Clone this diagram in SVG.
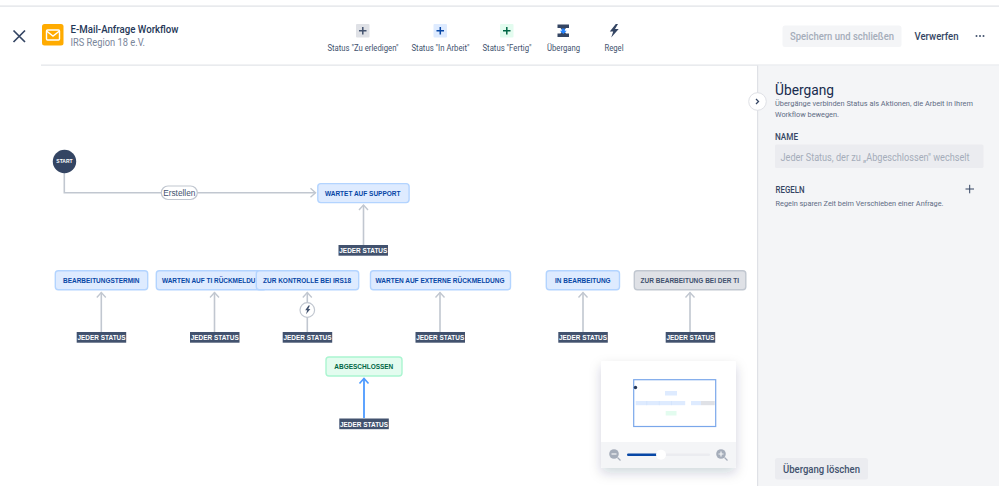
<svg xmlns="http://www.w3.org/2000/svg" width="999" height="498" viewBox="0 0 999 498">
<style>
text{font-family:Roboto,"Noto Sans","Liberation Sans",sans-serif}
.st rect{stroke-width:1.4}
.st text{font-family:"Liberation Sans",Arial,sans-serif;font-size:6.8px;font-weight:700;text-anchor:middle}
.blue rect{fill:#deebff;stroke:#b3d4ff}.blue text{fill:#0747a6}
.grey rect{fill:#dfe1e6;stroke:#c1c7d0}.grey text{fill:#42526e}
.green rect{fill:#e3fcef;stroke:#abf5d1}.green text{fill:#006644}
.any rect{fill:#42526e}
.any text{font-family:"Liberation Sans",Arial,sans-serif;font-size:7px;font-weight:700;fill:#fff;text-anchor:middle}
.tool{font-size:8.3px;fill:#42526e;text-anchor:middle}
.c{fill:none;stroke:#c1c7d0;stroke-width:1.6}
.mm{fill:#deebff}
</style>
<defs>
<marker id="ah" markerUnits="userSpaceOnUse" markerWidth="12" markerHeight="12" refX="10" refY="6" orient="auto"><path d="M5 1.500L10 6L5 10.500" fill="none" stroke="#c1c7d0" stroke-width="1.400"/></marker>
<marker id="ahb" markerUnits="userSpaceOnUse" markerWidth="12" markerHeight="12" refX="10" refY="6" orient="auto"><path d="M5 1.500L10 6L5 10.500" fill="none" stroke="#4c9aff" stroke-width="1.600"/></marker>
<filter id="sh" x="-20%" y="-20%" width="140%" height="140%"><feDropShadow dx="0" dy="5" stdDeviation="6" flood-color="#091e42" flood-opacity=".18"/></filter>
</defs>
<rect width="999" height="498" fill="#fff"/>
<g id="chrome">
<rect x="0" y="5.500" width="999" height="1.200" fill="#dfe1e6"/>
<rect x="41" y="64.500" width="958" height="1.300" fill="#e4e6ea"/>
<rect x="758" y="65.500" width="241" height="420.500" fill="#f4f5f7"/>
<rect x="757" y="65.500" width="1.200" height="420.500" fill="#dfe1e6"/>
<path d="M13.500 30.500L25 42M25 30.500L13.500 42" stroke="#344563" stroke-width="1.700" fill="none"/>
<rect x="42" y="24" width="21.500" height="21.500" rx="2.500" fill="#ffab00"/>
<rect x="46.500" y="30" width="13" height="10" rx="1" fill="none" stroke="#fff" stroke-width="1.400"/>
<path d="M46.500 31L53 36L59.500 31" fill="none" stroke="#fff" stroke-width="1.400"/>
<text x="70.500" y="32.500" font-size="10.500" font-weight="500" fill="#253858" textLength="108" lengthAdjust="spacingAndGlyphs">E-Mail-Anfrage Workflow</text>
<text x="70.500" y="45.500" font-size="10.200" fill="#7a869a" textLength="74.500" lengthAdjust="spacingAndGlyphs">IRS Region 18 e.V.</text>
</g>
<g id="toolbar">
<rect x="356" y="24" width="13.500" height="13.500" rx="1" fill="#dfe1e6"/><path d="M359 30.800h7.500M362.800 27v7.500" stroke="#42526e" stroke-width="1.500"/>
<rect x="433.500" y="24" width="13.500" height="13.500" rx="1" fill="#deebff"/><path d="M436.500 30.800h7.500M440.300 27v7.500" stroke="#0747a6" stroke-width="1.500"/>
<rect x="500" y="24" width="13.500" height="13.500" rx="1" fill="#e3fcef"/><path d="M503 30.800h7.500M506.800 27v7.500" stroke="#006644" stroke-width="1.500"/>
<path d="M557.500 24.500h11.500v3.500h-3l-1.500 2h-2.500l-1.500-2h-3zM557.500 37v-3.500h3l1.500-2h2.500l1.500 2h3V37z" fill="#344563"/>
<path d="M561.800 28.500h3v2.300h2l-3.500 3.200-3.500-3.200h2z" fill="#2684ff"/>
<path d="M615.800 24l-6 7.500h3.400l-2 6 7.500-8.500h-3.700l3-5z" fill="#344563"/>
<text class="tool" x="363" y="50.500" textLength="71" lengthAdjust="spacingAndGlyphs">Status "Zu erledigen"</text>
<text class="tool" x="440.500" y="50.500" textLength="58" lengthAdjust="spacingAndGlyphs">Status "In Arbeit"</text>
<text class="tool" x="507" y="50.500" textLength="49" lengthAdjust="spacingAndGlyphs">Status "Fertig"</text>
<text class="tool" x="563.500" y="50.500" textLength="33" lengthAdjust="spacingAndGlyphs">Übergang</text>
<text class="tool" x="614" y="50.500" textLength="19" lengthAdjust="spacingAndGlyphs">Regel</text>
<rect x="782.500" y="25.500" width="119" height="21.500" rx="2.500" fill="#f4f5f7"/>
<text x="842" y="40" font-size="10.500" font-weight="500" fill="#a5adba" text-anchor="middle" textLength="104" lengthAdjust="spacingAndGlyphs">Speichern und schließen</text>
<text x="936.500" y="40" font-size="10.500" font-weight="500" fill="#344563" text-anchor="middle" textLength="44" lengthAdjust="spacingAndGlyphs">Verwerfen</text>
<circle cx="976.500" cy="36" r="1" fill="#42526e"/><circle cx="980" cy="36" r="1" fill="#42526e"/><circle cx="983.500" cy="36" r="1" fill="#42526e"/>
</g>
<g id="panel">
<text x="775" y="94.500" font-size="14.500" fill="#172b4d" textLength="59" lengthAdjust="spacingAndGlyphs">Übergang</text>
<text x="775" y="106" font-size="8" fill="#5e6c84" textLength="198" lengthAdjust="spacingAndGlyphs">Übergänge verbinden Status als Aktionen, die Arbeit in Ihrem</text>
<text x="775" y="116.500" font-size="8" fill="#5e6c84" textLength="64" lengthAdjust="spacingAndGlyphs">Workflow bewegen.</text>
<text x="775" y="139.500" font-size="8.500" font-weight="500" fill="#344563" textLength="23" lengthAdjust="spacingAndGlyphs">NAME</text>
<rect x="775" y="144.500" width="208.500" height="23.500" rx="1.500" fill="#ebecf0"/>
<text x="780.500" y="160.500" font-size="10" fill="#a5adba" textLength="189" lengthAdjust="spacingAndGlyphs">Jeder Status, der zu „Abgeschlossen" wechselt</text>
<text x="775.500" y="193" font-size="8.500" font-weight="500" fill="#344563" textLength="29" lengthAdjust="spacingAndGlyphs">REGELN</text>
<path d="M965.500 189h8.500M969.700 184.800v8.500" stroke="#344563" stroke-width="1"/>
<text x="775.500" y="206" font-size="8" fill="#5e6c84" textLength="168" lengthAdjust="spacingAndGlyphs">Regeln sparen Zeit beim Verschieben einer Anfrage.</text>
<rect x="775" y="458" width="93" height="21.500" rx="2.500" fill="#ebecf0"/>
<text x="821.500" y="473" font-size="10.500" font-weight="500" fill="#42526e" text-anchor="middle" textLength="77" lengthAdjust="spacingAndGlyphs">Übergang löschen</text>
<circle cx="757.500" cy="101.500" r="8.800" fill="#fff" stroke="#dfe1e6" stroke-width="1"/>
<path d="M756 99l2.500 2.500L756 104" fill="none" stroke="#344563" stroke-width="1.300"/>
</g>
<g id="connectors">
<path class="c" d="M64.300 172V192.800H315.500" marker-end="url(#ah)"/>
<path class="c" d="M363.500 245V205" marker-end="url(#ah)"/>
<path class="c" d="M101.300 332V292.500" marker-end="url(#ah)"/>
<path class="c" d="M214.500 332V292.500" marker-end="url(#ah)"/>
<path class="c" d="M307.300 332V292.500" marker-end="url(#ah)"/>
<path class="c" d="M440 332V292.500" marker-end="url(#ah)"/>
<path class="c" d="M583 332V292.500" marker-end="url(#ah)"/>
<path class="c" d="M690 332V292.500" marker-end="url(#ah)"/>
<path d="M364 418V378.500" fill="none" stroke="#4c9aff" stroke-width="1.800" marker-end="url(#ahb)"/>
</g>
<g id="start"><circle cx="64.500" cy="161.500" r="11.700" fill="#344563"/><text x="64.500" y="163.400" font-size="5" font-weight="700" fill="#fff" text-anchor="middle" style="font-family:'Liberation Sans',sans-serif">START</text></g>
<g id="label-erstellen"><rect x="161.300" y="186" width="36" height="13.500" rx="6.700" fill="#fff" stroke="#c1c7d0" stroke-width="1.200"/><text x="179.300" y="195.800" font-size="8.300" fill="#42526e" text-anchor="middle" style="font-family:'Liberation Sans',sans-serif">Erstellen</text></g>
<g id="rule"><circle cx="307.300" cy="310" r="7.300" fill="#fff" stroke="#c1c7d0" stroke-width="1.200"/><path d="M308.500 305.500l-3.300 4.700h2l-1.200 4 4.400-5.300h-2.100l1.600-3.400z" fill="#42526e"/></g>
<g id="n1" class="st blue"><rect x="317.800" y="183.600" width="91.300" height="19" rx="3"/><text x="362.700" y="195.700" textLength="75.500" lengthAdjust="spacingAndGlyphs">WARTET AUF SUPPORT</text></g>
<g id="n2" class="st blue"><rect x="55.300" y="270.800" width="92.400" height="19" rx="3"/><text x="101.300" y="282.900" textLength="76.500" lengthAdjust="spacingAndGlyphs">BEARBEITUNGSTERMIN</text></g>
<g id="n3" class="st blue"><rect x="156.300" y="270.800" width="110" height="19" rx="3"/><text x="162" y="282.900" style="text-anchor:start" textLength="93.500" lengthAdjust="spacingAndGlyphs">WARTEN AUF TI RÜCKMELDU</text></g>
<g id="n4" class="st blue"><rect x="256.300" y="270.800" width="102.400" height="19" rx="3"/><text x="307" y="282.900" textLength="88" lengthAdjust="spacingAndGlyphs">ZUR KONTROLLE BEI IRS18</text></g>
<g id="n5" class="st blue"><rect x="370.500" y="270.800" width="140" height="19" rx="3"/><text x="440" y="282.900" textLength="129" lengthAdjust="spacingAndGlyphs">WARTEN AUF EXTERNE RÜCKMELDUNG</text></g>
<g id="n6" class="st blue"><rect x="546.300" y="270.800" width="73.200" height="19" rx="3"/><text x="582.800" y="282.900" textLength="55.500" lengthAdjust="spacingAndGlyphs">IN BEARBEITUNG</text></g>
<g id="n7" class="st grey"><rect x="634.300" y="270.800" width="111.500" height="19" rx="3"/><text x="689.800" y="282.900" textLength="98.500" lengthAdjust="spacingAndGlyphs">ZUR BEARBEITUNG BEI DER TI</text></g>
<g id="n8" class="st green"><rect x="326" y="357" width="76" height="19" rx="3"/><text x="363.800" y="369.100" textLength="59" lengthAdjust="spacingAndGlyphs">ABGESCHLOSSEN</text></g>
<g id="any1" class="any"><rect x="338.500" y="245" width="49.500" height="10.700"/><text x="363.300" y="253" textLength="48" lengthAdjust="spacingAndGlyphs">JEDER STATUS</text></g>
<g id="any2" class="any"><rect x="76.700" y="332" width="49.500" height="10.700"/><text x="101.500" y="340" textLength="48" lengthAdjust="spacingAndGlyphs">JEDER STATUS</text></g>
<g id="any3" class="any"><rect x="190" y="332" width="49.500" height="10.700"/><text x="214.700" y="340" textLength="48" lengthAdjust="spacingAndGlyphs">JEDER STATUS</text></g>
<g id="any4" class="any"><rect x="282.700" y="332" width="49.500" height="10.700"/><text x="307.500" y="340" textLength="48" lengthAdjust="spacingAndGlyphs">JEDER STATUS</text></g>
<g id="any5" class="any"><rect x="415.500" y="332" width="49.500" height="10.700"/><text x="440.200" y="340" textLength="48" lengthAdjust="spacingAndGlyphs">JEDER STATUS</text></g>
<g id="any6" class="any"><rect x="558.300" y="332" width="49.500" height="10.700"/><text x="583" y="340" textLength="48" lengthAdjust="spacingAndGlyphs">JEDER STATUS</text></g>
<g id="any7" class="any"><rect x="665.700" y="332" width="49.500" height="10.700"/><text x="690.400" y="340" textLength="48" lengthAdjust="spacingAndGlyphs">JEDER STATUS</text></g>
<g id="any8" class="any"><rect x="339.300" y="418.500" width="49.500" height="10.700"/><text x="364" y="426.500" textLength="48" lengthAdjust="spacingAndGlyphs">JEDER STATUS</text></g>
<g id="minimap">
<rect x="601" y="361" width="135" height="107" rx="2" fill="#fff" filter="url(#sh)"/>
<path d="M601 442H736V466a2 2 0 0 1-2 2H603a2 2 0 0 1-2-2z" fill="#f4f5f7"/>
<rect x="633.700" y="379.700" width="82" height="46.800" fill="#fff" stroke="#7aa7ea" stroke-width="1.200"/>
<circle cx="635.500" cy="387.500" r="1.700" fill="#253858"/>
<rect class="mm" x="665" y="391" width="12" height="4.500"/>
<rect class="mm" x="635.700" y="401" width="49.500" height="4.200"/>
<path d="M646.700 401v4.200M659.300 401v4.200M671.500 401v4.200" stroke="#cfe0fb" stroke-width=".6"/>
<rect class="mm" x="691" y="401" width="10" height="4.200"/>
<rect x="701" y="401" width="13.700" height="4.200" fill="#dfe1e6"/>
<rect x="665.700" y="411" width="10.800" height="4.500" fill="#e3fcef"/>
<circle cx="614" cy="454" r="4.800" fill="#a5adba"/><path d="M617.500 457.500l3 3" stroke="#a5adba" stroke-width="1.300"/><path d="M611.500 454h5" stroke="#f4f5f7" stroke-width="1.200"/>
<rect x="627" y="453.500" width="83" height="2.500" rx="1.200" fill="#ebecf0"/>
<rect x="627" y="453.500" width="34" height="2.500" rx="1.200" fill="#0747a6"/>
<circle cx="661" cy="454.700" r="5" fill="#fff"/>
<circle cx="721" cy="454" r="4.800" fill="#a5adba"/><path d="M724.500 457.500l3 3" stroke="#a5adba" stroke-width="1.300"/><path d="M718.500 454h5M721 451.500v5" stroke="#f4f5f7" stroke-width="1.200"/>
</g>
</svg>
